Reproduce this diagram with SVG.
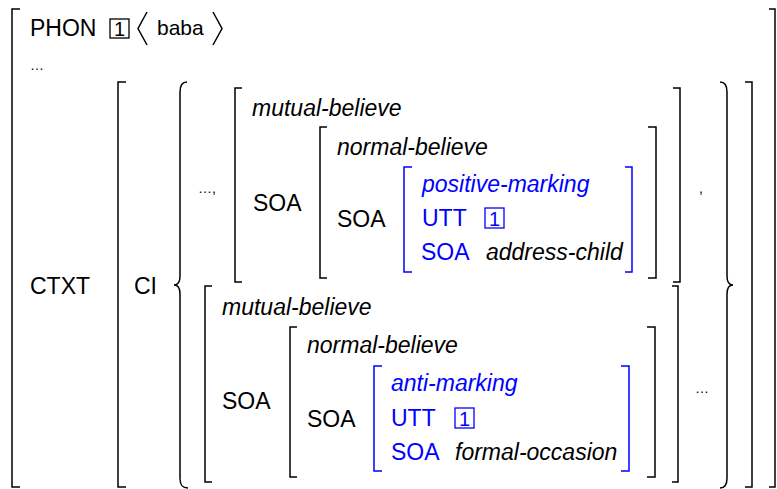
<svg xmlns="http://www.w3.org/2000/svg" width="777" height="489" viewBox="0 0 777 489">
<style>
text{font-family:"Liberation Sans",Arial,sans-serif;font-size:23px;fill:#000}
.i{font-style:italic}
.b{fill:#0000ff}
.sm{font-size:14px}
.num{font-size:20px;text-anchor:middle}
.br{fill:none;stroke:#000;stroke-width:1.5}
.bb{fill:none;stroke:#0000ff;stroke-width:1.5}
.box{fill:none;stroke:#000;stroke-width:1.3}
.boxb{fill:none;stroke:#0000ff;stroke-width:1.3}
</style>
<rect width="777" height="489" fill="#fff"/>
<g id="outer">
<path class="br" d="M20,9 H12 V487 H20"/>
<path class="br" d="M769,9 H775 V487 H769"/>
<text x="30" y="36">PHON</text>
<rect class="box" x="110" y="19" width="19" height="19"/>
<text class="num" x="119.5" y="35.5">1</text>
<polyline class="br" points="147,12 138,28.5 147,45"/>
<text x="157" y="35" style="font-size:21px">baba</text>
<polyline class="br" points="213,12 222,28.5 213,45"/>
<text class="sm" x="30" y="70">…</text>
<text x="30" y="294">CTXT</text>
</g>
<g id="ctxt">
<path class="br" d="M126,82 H118 V487 H126"/>
<path class="br" d="M745,82 H752 V487 H745"/>
<text x="134" y="294">CI</text>
<path class="br" d="M187,82 C182,82 180,85 180,92 V276 C180,282 178,285 174,285 C178,285 180,288 180,294 V478 C180,485 182,488 188,488"/>
<path class="br" d="M720,82 C725,82 727,85 727,92 V276 C727,282 729,285 733,285 C729,285 727,288 727,294 V478 C727,485 725,488 720,488"/>
<text class="sm" x="198" y="193">…,</text>
<text class="sm" x="699" y="193">,</text>
<text class="sm" x="695" y="393">…</text>
</g>
<g id="avm1">
<path class="br" d="M242,88 H235 V282 H242"/>
<path class="br" d="M673,88 H680 V282 H673"/>
<text class="i" x="252" y="116">mutual-believe</text>
<text x="253" y="211">SOA</text>
</g>
<g id="avm2">
<path class="br" d="M327,127 H320 V278 H327"/>
<path class="br" d="M648,127 H656 V278 H648"/>
<text class="i" x="337" y="155">normal-believe</text>
<text x="337" y="227">SOA</text>
</g>
<g id="avm3">
<path class="bb" d="M412,167 H404 V272 H412"/>
<path class="bb" d="M625,167 H632 V272 H625"/>
<text class="i b" x="422" y="192">positive-marking</text>
<text class="b" x="422" y="226">UTT</text>
<rect class="boxb" x="485" y="208" width="19" height="20"/>
<text class="num b" x="494.5" y="225.5">1</text>
<text class="b" x="421" y="260">SOA</text>
<text class="i" x="486" y="260">address-child</text>
</g>
<g id="avm4">
<path class="br" d="M212,286 H205 V482 H212"/>
<path class="br" d="M672,286 H678 V482 H672"/>
<text class="i" x="222" y="315">mutual-believe</text>
<text x="222" y="409">SOA</text>
</g>
<g id="avm5">
<path class="br" d="M297,327 H290 V477 H297"/>
<path class="br" d="M647,327 H655 V477 H647"/>
<text class="i" x="307" y="353">normal-believe</text>
<text x="307" y="427">SOA</text>
</g>
<g id="avm6">
<path class="bb" d="M382,366 H374 V471 H382"/>
<path class="bb" d="M621,366 H629 V471 H621"/>
<text class="i b" x="391" y="391">anti-marking</text>
<text class="b" x="391" y="426">UTT</text>
<rect class="boxb" x="455" y="408" width="19" height="20"/>
<text class="num b" x="464.5" y="425.5">1</text>
<text class="b" x="391" y="460">SOA</text>
<text class="i" x="455" y="460">formal-occasion</text>
</g>
<g id="connectors"/>
</svg>
